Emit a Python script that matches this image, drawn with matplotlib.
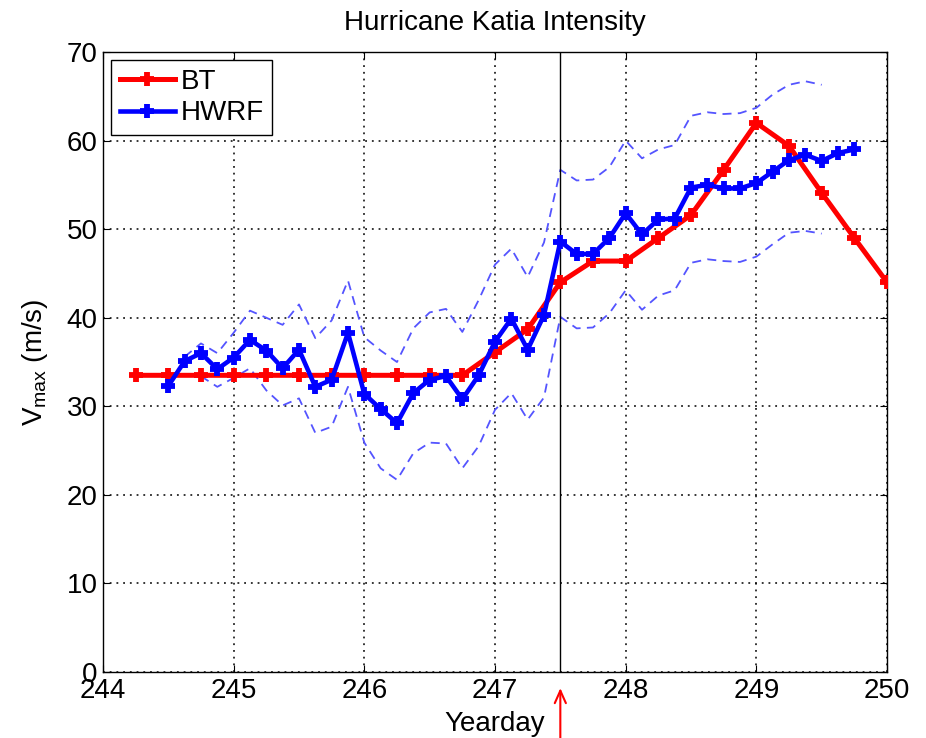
import numpy as np
import matplotlib
matplotlib.use("Agg")
import matplotlib.pyplot as plt

plt.rcParams['font.family'] = ['Liberation Sans', 'DejaVu Sans']
plt.rcParams['mathtext.default'] = 'regular'

# Best track (6-hourly)
bt_day = [244.25, 244.5, 244.75, 245.0, 245.25, 245.5, 245.75, 246.0, 246.25,
          246.5, 246.75, 247.0, 247.25, 247.5, 247.75, 248.0, 248.25, 248.5,
          248.75, 249.0, 249.25, 249.5, 249.75, 250.0]
bt_vmax = [33.5, 33.5, 33.5, 33.5, 33.5, 33.5, 33.5, 33.5, 33.5,
           33.5, 33.5, 36.1, 38.7, 44.0, 46.4, 46.4, 49.0, 51.6,
           56.7, 62.0, 59.4, 54.1, 49.0, 44.0]

# HWRF ensemble mean (3-hourly)
hw_day = [244.5, 244.625, 244.75, 244.875, 245.0, 245.125, 245.25, 245.375,
          245.5, 245.625, 245.75, 245.875, 246.0, 246.125, 246.25, 246.375,
          246.5, 246.625, 246.75, 246.875, 247.0, 247.125, 247.25, 247.375,
          247.5, 247.625, 247.75, 247.875, 248.0, 248.125, 248.25, 248.375,
          248.5, 248.625, 248.75, 248.875, 249.0, 249.125, 249.25, 249.375,
          249.5, 249.625, 249.75]
hw_vmax = [32.3, 35.1, 36.0, 34.2, 35.5, 37.5, 36.3, 34.3,
           36.4, 32.2, 33.0, 38.3, 31.4, 29.7, 28.1, 31.5,
           33.0, 33.4, 30.8, 33.5, 37.3, 39.9, 36.4, 40.3,
           48.6, 47.2, 47.2, 49.0, 51.8, 49.4, 51.1, 51.2,
           54.7, 55.0, 54.6, 54.6, 55.2, 56.5, 57.8, 58.4,
           57.7, 58.6, 59.0]

# spread envelope (dashed)
up_day = [244.625, 244.75, 244.875, 245.0, 245.125, 245.25, 245.375, 245.5,
          245.625, 245.75, 245.875, 246.0, 246.125, 246.25, 246.375, 246.5,
          246.625, 246.75, 246.875, 247.0, 247.125, 247.25, 247.375, 247.5,
          247.625, 247.75, 247.875, 248.0, 248.125, 248.25, 248.375, 248.5,
          248.625, 248.75, 248.875, 249.0, 249.125, 249.25, 249.375, 249.5]
up_vmax = [35.6, 37.1, 36.0, 38.3, 40.8, 40.0, 39.2, 41.5,
           37.7, 39.7, 44.2, 37.8, 36.3, 35.0, 38.8, 40.6,
           41.0, 38.4, 42.0, 46.0, 47.8, 44.6, 48.5, 56.7,
           55.5, 55.6, 57.0, 60.0, 58.0, 59.0, 59.5, 62.8,
           63.2, 63.0, 63.1, 63.7, 65.2, 66.3, 66.7, 66.3]
lo_day = [244.75, 244.875, 245.0, 245.125, 245.25, 245.375, 245.5,
          245.625, 245.75, 245.875, 246.0, 246.125, 246.25, 246.375, 246.5,
          246.625, 246.75, 246.875, 247.0, 247.125, 247.25, 247.375, 247.5,
          247.625, 247.75, 247.875, 248.0, 248.125, 248.25, 248.375, 248.5,
          248.625, 248.75, 248.875, 249.0, 249.125, 249.25, 249.375, 249.5]
lo_vmax = [33.4, 32.2, 33.2, 34.3, 31.8, 30.1, 30.9,
           27.0, 27.7, 32.2, 25.9, 23.0, 21.7, 24.7, 25.9,
           25.8, 23.0, 25.5, 29.6, 31.5, 28.5, 31.0, 40.1,
           38.8, 38.9, 40.5, 43.1, 40.9, 42.5, 43.1, 46.2,
           46.6, 46.4, 46.3, 46.9, 48.3, 49.6, 49.8, 49.5]

fig = plt.figure(figsize=(9.26, 7.38), dpi=100)
ax = fig.add_axes([0.1112, 0.0894, 0.8467, 0.8401])

dash_col = (0.33, 0.33, 1.0)
ax.plot(up_day, up_vmax, color=dash_col, lw=1.3, dashes=(5, 3.5))
ax.plot(lo_day, lo_vmax, color=dash_col, lw=1.3, dashes=(5, 3.5))
ax.plot(bt_day, bt_vmax, color='red', lw=3.6, marker='+', ms=10, mew=4.2,
        label='BT', zorder=3)
ax.plot(hw_day, hw_vmax, color='blue', lw=3.3, marker='+', ms=10, mew=4.2,
        label='HWRF', zorder=4)
ax.axvline(247.5, color='black', lw=1.0, zorder=2)

ax.set_xlim(244, 250)
ax.set_ylim(0, 70)
ax.set_xticks(np.arange(244, 251, 1))
ax.set_yticks(np.arange(0, 71, 10))
ax.grid(True, color='black', linestyle=(0, (1.2, 3.2)), lw=1.1)
ax.tick_params(direction='in', length=5, top=True, right=True,
               labelsize=20, pad=4)
for s in ax.spines.values():
    s.set_linewidth(1.0)

ax.set_title('Hurricane Katia Intensity', fontsize=20, pad=16)
ax.set_xlabel('Yearday', fontsize=20, labelpad=5)
ax.set_ylabel('V$_{max}$ (m/s)', fontsize=20, labelpad=12)

leg = ax.legend(loc='upper left', fontsize=20, fancybox=False,
                edgecolor='black', framealpha=1, handlelength=2.0,
                handletextpad=0.2, borderpad=0.3, labelspacing=0.2,
                borderaxespad=0.3)
leg.get_frame().set_linewidth(1.0)

ax.annotate('', xy=(247.5, -1.5), xytext=(247.5, -7.8),
            arrowprops=dict(arrowstyle='->,head_length=0.9,head_width=0.4',
                            color='red', lw=1.5),
            annotation_clip=False)

fig.savefig('out.png', dpi=100)
